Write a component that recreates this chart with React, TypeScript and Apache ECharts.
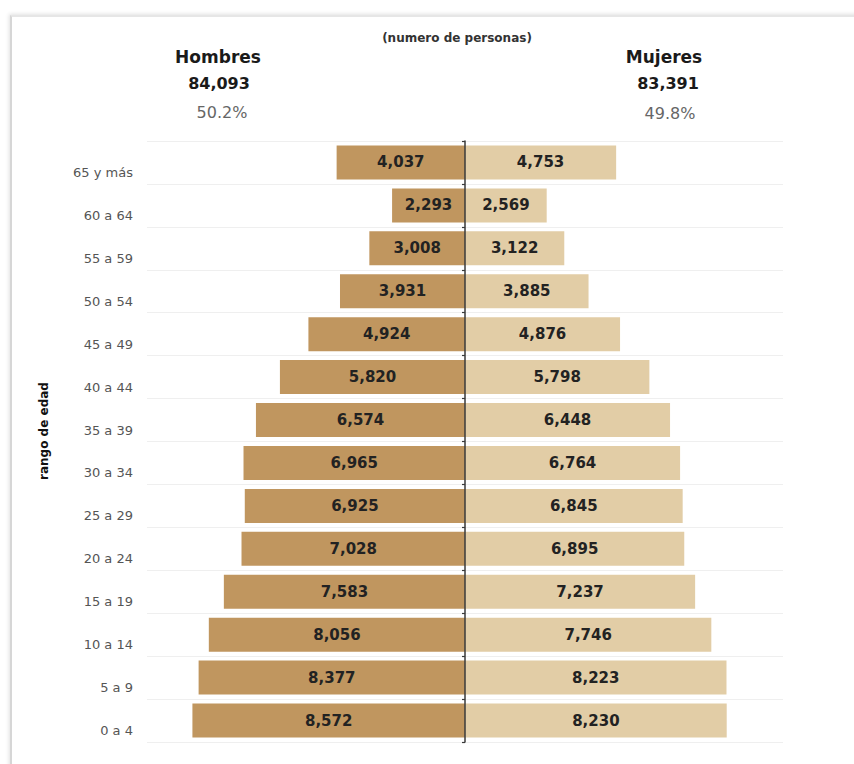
import React, { useEffect, useRef } from "react";
import * as echarts from "echarts";

const categories = ["0 a 4", "5 a 9", "10 a 14", "15 a 19", "20 a 24", "25 a 29", "30 a 34", "35 a 39", "40 a 44", "45 a 49", "50 a 54", "55 a 59", "60 a 64", "65 y más"];
const hombres = [8572, 8377, 8056, 7583, 7028, 6925, 6965, 6574, 5820, 4924, 3931, 3008, 2293, 4037];
const mujeres = [8230, 8223, 7746, 7237, 6895, 6845, 6764, 6448, 5798, 4876, 3885, 3122, 2569, 4753];
const headerNames = ["Hombres", "Mujeres"];
const headerTotals = ["84,093", "83,391"];
const headerShares = ["50.2%", "49.8%"];
const subtitle = "(numero de personas)";
const axisName = "rango de edad";

const FONT = "'DejaVu Sans', sans-serif";
const fmt = (v: number) => Math.abs(v).toLocaleString("en-US");

export default function App() {
  const ref = useRef<HTMLDivElement>(null);
  useEffect(() => {
    if (!ref.current) return;
    const chart = echarts.init(ref.current, null, { renderer: "svg" });
    const labelStyle = {
      show: true,
      position: "inside",
      color: "#222",
      fontWeight: "bold",
      fontSize: 15,
      fontFamily: FONT,
      formatter: (p: any) => fmt(p.value),
    };
    chart.setOption({
      animation: false,
      textStyle: { fontFamily: FONT },
      grid: { left: 147, right: 71, top: 141, bottom: 22 },
      xAxis: {
        type: "value",
        min: -10000,
        max: 10000,
        axisLine: { show: false },
        axisTick: { show: false },
        axisLabel: { show: false },
        splitLine: { show: false },
      },
      yAxis: [
        {
          type: "category",
          data: categories,
          z: 10,
          axisLine: { show: true, onZero: true, lineStyle: { color: "#3a3a3a", width: 1.5 } },
          axisTick: { show: true, length: 3, lineStyle: { color: "#3a3a3a", width: 1.2 } },
          axisLabel: { show: false },
          splitLine: { show: true, lineStyle: { color: "#efefef", width: 1 } },
        },
        {
          type: "category",
          data: categories,
          position: "left",
          axisLine: { show: false, onZero: false },
          axisTick: { show: false },
          splitLine: { show: false },
          axisLabel: {
            color: "#555",
            fontSize: 13,
            fontFamily: FONT,
            margin: 14,
            lineHeight: 20,
            formatter: (v: string) => "\n" + v,
          },
        },
      ],
      series: [
        {
          name: "Hombres",
          type: "bar",
          yAxisIndex: 0,
          data: hombres.map((v) => -v),
          barWidth: 34,
          barGap: "-100%",
          itemStyle: { color: "#C0965F" },
          label: labelStyle,
        },
        {
          name: "Mujeres",
          type: "bar",
          yAxisIndex: 0,
          data: mujeres,
          barWidth: 34,
          barGap: "-100%",
          itemStyle: { color: "#E2CDA6" },
          label: labelStyle,
        },
      ],
      graphic: [
        { type: "text", x: 457, y: 38, style: { text: subtitle, font: `bold 12px ${FONT}`, fill: "#333", align: "center", verticalAlign: "middle" } },
        { type: "text", x: 218, y: 57, style: { text: headerNames[0], font: `bold 17px ${FONT}`, fill: "#1a1a1a", align: "center", verticalAlign: "middle" } },
        { type: "text", x: 219, y: 83, style: { text: headerTotals[0], font: `bold 16px ${FONT}`, fill: "#1a1a1a", align: "center", verticalAlign: "middle" } },
        { type: "text", x: 222, y: 112, style: { text: headerShares[0], font: `16px ${FONT}`, fill: "#666", align: "center", verticalAlign: "middle" } },
        { type: "text", x: 664, y: 57, style: { text: headerNames[1], font: `bold 17px ${FONT}`, fill: "#1a1a1a", align: "center", verticalAlign: "middle" } },
        { type: "text", x: 668, y: 83, style: { text: headerTotals[1], font: `bold 16px ${FONT}`, fill: "#1a1a1a", align: "center", verticalAlign: "middle" } },
        { type: "text", x: 670, y: 113, style: { text: headerShares[1], font: `16px ${FONT}`, fill: "#666", align: "center", verticalAlign: "middle" } },
        { type: "text", x: 44, y: 431, rotation: Math.PI / 2, style: { text: axisName, font: `bold 12px ${FONT}`, fill: "#111", align: "center", verticalAlign: "middle" } },
      ],
    });
    return () => chart.dispose();
  }, []);
  return (
    <div style={{ position: "fixed", left: 0, top: 0, width: 854, height: 764, background: "#fff", overflow: "hidden" }}>
      <div
        style={{
          position: "absolute",
          left: 10,
          top: 15,
          width: 900,
          height: 800,
          borderLeft: "2px solid #d6d6d6",
          borderTop: "2px solid #e6e6e6",
          boxShadow: "-1px -1px 4px rgba(0,0,0,0.12)",
          background: "#fff",
        }}
      />
      <div ref={ref} style={{ position: "absolute", left: 0, top: 0, width: 854, height: 764 }} />
    </div>
  );
}
